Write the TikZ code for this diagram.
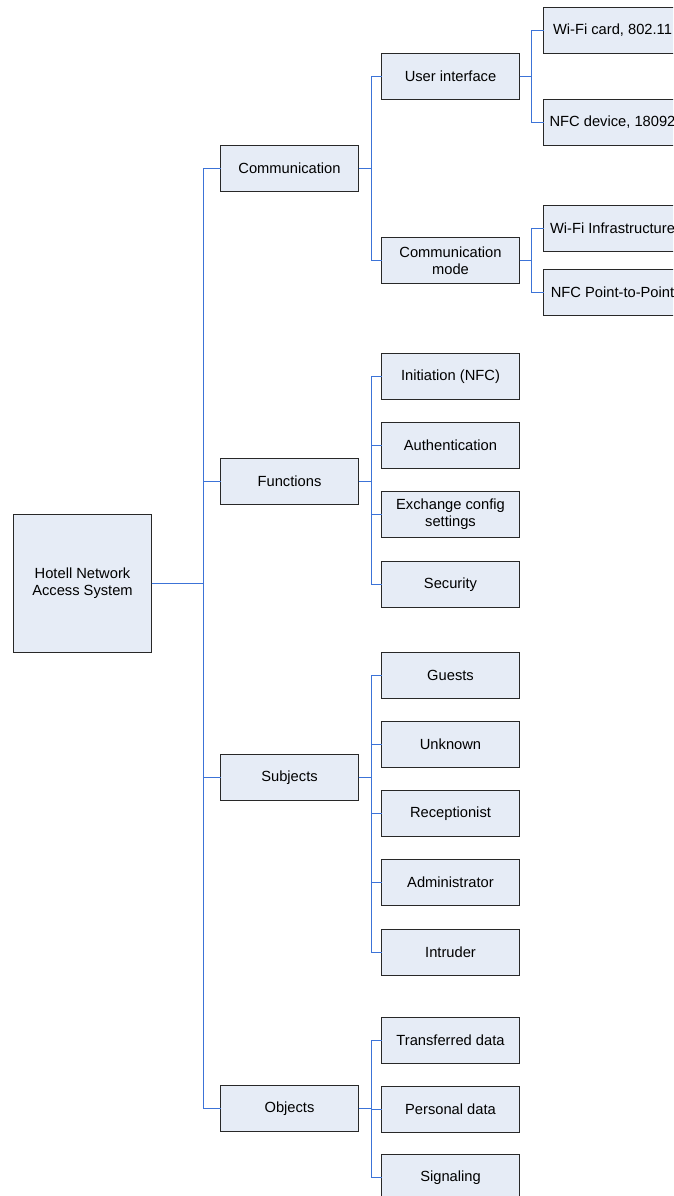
\documentclass[tikz,border=0pt]{standalone}
\usepackage{fontspec}
\setmainfont{Liberation Sans}
\begin{document}
\begin{tikzpicture}[x=1pt,y=-1pt,
  every node/.style={font=\fontsize{14.7}{17}\selectfont},
  box/.style={draw={rgb,255:red,40;green,40;blue,40}, line width=1pt,
    fill={rgb,255:red,230;green,236;blue,246}, align=center,
    minimum width=138pt, minimum height=46pt, inner sep=0pt, outer sep=0pt},
  rootbox/.style={box, minimum height=138pt},
  link/.style={draw={rgb,255:red,60;green,115;blue,215}, line width=1.1pt}]
\clip (0,0) rectangle (673,1196);

% root
\node[rootbox] (root) at (82.5,583.5) {Hotell Network\\Access System};

% first level
\node[box] (comm) at (289.5,168.5) {Communication};
\node[box] (func) at (289.5,481.5) {Functions};
\node[box] (subj) at (289.5,777.5) {Subjects};
\node[box] (obj)  at (289.5,1108.5) {Objects};

% communication branch
\node[box] (ui)   at (450.5,76.5) {User interface};
\node[box] (mode) at (450.5,260.5) {Communication\\mode};
\node[box] (wifi) at (612.5,30.5) {Wi-Fi card, 802.11};
\node[box] (nfc)  at (612.5,122.5) {NFC device, 18092};
\node[box] (infra) at (612.5,228.5) {Wi-Fi Infrastructure};
\node[box] (p2p)  at (612.5,292.5) {NFC Point-to-Point};

% functions branch
\node[box] (init) at (450.5,376.5) {Initiation (NFC)};
\node[box] (auth) at (450.5,445.5) {Authentication};
\node[box] (exch) at (450.5,514.5) {Exchange config\\settings};
\node[box] (sec)  at (450.5,584.5) {Security};

% subjects branch
\node[box] (guest) at (450.5,675.5) {Guests};
\node[box] (unkn)  at (450.5,744.5) {Unknown};
\node[box] (recep) at (450.5,813.5) {Receptionist};
\node[box] (admin) at (450.5,882.5) {Administrator};
\node[box] (intr)  at (450.5,952.5) {Intruder};

% objects branch
\node[box] (trans) at (450.5,1040.5) {Transferred data};
\node[box] (pers)  at (450.5,1109.5) {Personal data};
\node[box] (sig)   at (450.5,1177.5) {Signaling};

% connectors
\foreach \c in {comm,func,subj,obj}
  \draw[link] (root.east) -- ++(52,0) |- (\c.west);
\foreach \c in {ui,mode}
  \draw[link] (comm.east) -- ++(13,0) |- (\c.west);
\foreach \c in {init,auth,exch,sec}
  \draw[link] (func.east) -- ++(13,0) |- (\c.west);
\foreach \c in {guest,unkn,recep,admin,intr}
  \draw[link] (subj.east) -- ++(13,0) |- (\c.west);
\foreach \c in {trans,pers,sig}
  \draw[link] (obj.east) -- ++(13,0) |- (\c.west);
\foreach \c in {wifi,nfc}
  \draw[link] (ui.east) -- ++(12,0) |- (\c.west);
\foreach \c in {infra,p2p}
  \draw[link] (mode.east) -- ++(12,0) |- (\c.west);
\end{tikzpicture}
\end{document}
